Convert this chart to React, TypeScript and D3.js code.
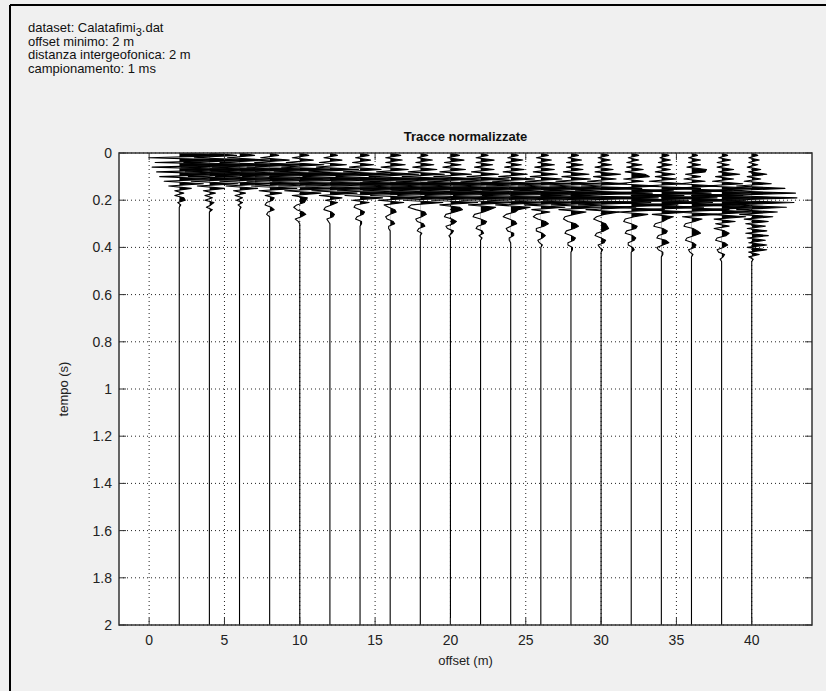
import React from 'react';
import * as d3 from 'd3';

// Figure size and plot box (pixels)
const WIDTH = 826;
const HEIGHT = 691;
const PLOT = { left: 119, top: 153, right: 812, bottom: 625 };

// Header text block
const HEADER_LINES = [
  { pre: 'dataset: Calatafimi', sub: '3', post: '.dat' },
  { pre: 'offset minimo: 2 m', sub: '', post: '' },
  { pre: 'distanza intergeofonica: 2 m', sub: '', post: '' },
  { pre: 'campionamento: 1 ms', sub: '', post: '' },
];
const TITLE = 'Tracce normalizzate';
const X_LABEL = 'offset (m)';
const Y_LABEL = 'tempo (s)';

// Axes
const X_DOMAIN = [-2, 44];
const Y_DOMAIN = [0, 2];
const X_TICKS = [0, 5, 10, 15, 20, 25, 30, 35, 40];
const Y_TICKS = [0, 0.2, 0.4, 0.6, 0.8, 1, 1.2, 1.4, 1.6, 1.8, 2];
const Y_TICK_LABELS = ['0', '0.2', '0.4', '0.6', '0.8', '1', '1.2', '1.4', '1.6', '1.8', '2'];

// Receiver offsets (m) and trace sampling step (s) for the plotted samples
const OFFSETS = [2, 4, 6, 8, 10, 12, 14, 16, 18, 20, 22, 24, 26, 28, 30, 32, 34, 36, 38, 40];
const SAMPLE_STEP = 0.01;
const RECORD_END = 2;

// Normalized trace amplitudes (deflection in offset units), one sample per SAMPLE_STEP
const TRACE_02 = [0.0, 3.8, -2.0, 3.5, -1.6, 3.9, -1.8, 3.4, -1.5, 3.0, -1.3, 2.4, -1.0, 1.6, -0.7, 0.8, -0.3, 0.3, -0.3, 0.3, 0.4, -0.1, 0.1, 0.0];
const TRACE_04 = [0.0, 1.6, -1.0, 3.2, -1.7, 3.8, -1.9, 3.6, -1.6, 3.3, -1.4, 2.8, -1.2, 1.9, -0.8, 1.0, -0.4, 0.4, -0.3, 0.2, -0.3, 0.3, 0.1, -0.2, 0.2, 0.0];
const TRACE_06 = [0.0, 1.0, -0.8, 2.0, -1.3, 3.2, -1.8, 3.8, -1.9, 3.6, -1.6, 3.0, -1.3, 2.2, -0.9, 1.2, -0.4, 0.4, -0.3, 0.2, -0.2, 0.2, -0.1, 0.1, 0.0];
const TRACE_08 = [0.0, 0.6, -0.6, 1.3, -1.0, 2.4, -1.5, 3.4, -1.9, 3.9, -1.8, 3.5, -1.5, 2.8, -1.2, 1.8, -0.7, 0.8, -0.3, 0.3, 0.2, -0.2, -0.3, 0.1, 0.3, -0.1, -0.2, 0.0];
const TRACE_10 = [0.0, 0.6, -0.5, 0.9, -0.9, 1.6, -1.2, 2.7, -1.7, 3.6, -2.0, 3.8, -1.8, 3.3, -1.4, 2.4, -1.0, 1.4, -0.5, 0.5, 0.4, 0.3, -0.2, -0.4, -0.2, 0.2, 0.4, 0.1, -0.3, -0.1, 0.0];
const TRACE_12 = [0.0, 0.5, -0.4, 0.8, -0.7, 1.1, -0.9, 1.9, -1.4, 3.0, -1.8, 3.7, -2.0, 3.6, -1.6, 2.8, -1.2, 1.8, -0.7, 0.8, -0.3, 0.5, 0.1, -0.3, -0.4, 0.1, 0.3, 0.2, -0.2, -0.1, 0.0];
const TRACE_14 = [0.0, 0.6, -0.3, 0.7, -0.5, 0.9, -0.7, 1.4, -1.1, 2.4, -1.6, 3.3, -1.9, 3.8, -1.9, 3.4, -1.5, 2.5, -1.0, 1.5, -0.5, 0.6, -0.3, -0.4, 0.0, 0.3, 0.2, -0.2, -0.3, 0.1, 0.1, 0.0];
const TRACE_16 = [0.0, 0.7, -0.3, 0.8, -0.3, 1.0, -0.6, 1.2, -0.9, 1.9, -1.4, 2.9, -1.8, 3.7, -2.0, 3.8, -1.8, 3.1, -1.3, 2.1, -0.8, 0.9, -0.4, -0.1, 0.3, 0.4, 0.0, -0.3, -0.2, 0.2, 0.3, -0.1, -0.1, 0.0];
const TRACE_18 = [0.0, 0.5, -0.2, 0.8, -0.3, 0.9, -0.5, 1.1, -0.8, 1.6, -1.2, 2.5, -1.6, 3.4, -1.9, 3.9, -1.9, 3.5, -1.5, 2.5, -1.1, 1.5, -0.6, -0.8, -0.3, 0.3, 0.4, 0.1, -0.3, -0.2, 0.2, 0.3, -0.1, -0.2, 0.1, 0.0];
const TRACE_20 = [0.0, 0.6, -0.2, 0.9, -0.4, 0.7, -0.5, 1.0, -0.7, 1.4, -1.1, 2.2, -1.5, 3.2, -1.9, 3.8, -2.0, 3.6, -1.7, 2.8, -1.2, 1.8, -0.7, 0.6, 0.8, 0.3, -0.3, -0.4, 0.1, 0.4, 0.2, -0.3, -0.2, 0.2, 0.1, -0.1, 0.0];
const TRACE_22 = [0.0, 0.5, -0.3, 0.9, -0.3, 0.8, -0.4, 0.9, -0.6, 1.2, -0.9, 1.9, -1.3, 2.9, -1.8, 3.6, -2.0, 3.8, -1.8, 3.1, -1.3, 2.1, -0.8, 1.0, 0.6, 0.2, -0.4, -0.5, 0.0, 0.4, 0.3, -0.2, -0.3, 0.1, 0.2, -0.1, 0.1, 0.0];
const TRACE_24 = [0.0, 0.5, -0.2, 0.8, -0.3, 0.7, -0.4, 0.9, -0.5, 1.1, -0.8, 1.6, -1.2, 2.5, -1.6, 3.4, -1.9, 3.8, -1.9, 3.4, -1.5, 2.4, -1.0, 1.3, 0.5, 0.3, -0.3, -0.5, -0.1, 0.3, 0.4, 0.0, -0.3, -0.2, 0.2, 0.2, -0.1, -0.1, 0.0];
const TRACE_26 = [0.0, 0.5, -0.3, 0.7, -0.2, 0.9, -0.4, 0.9, -0.5, 1.1, -0.7, 1.4, -1.0, 2.2, -1.5, 3.1, -1.8, 3.7, -2.0, 3.6, -1.7, 2.7, -1.1, 1.6, -0.6, 0.6, -0.3, -0.5, -0.2, 0.3, 0.5, 0.2, -0.3, -0.3, 0.1, 0.3, 0.1, -0.2, -0.1, 0.1, 0.0];
const TRACE_28 = [0.0, 0.5, -0.2, 0.7, -0.3, 0.8, -0.3, 0.8, -0.5, 1.2, -0.6, 1.3, -1.0, 2.0, -1.4, 2.9, -1.8, 3.6, -2.0, 3.8, -1.8, 3.0, -1.3, 2.0, -0.8, 1.0, 0.2, -0.4, -0.5, -0.2, 0.3, 0.5, 0.2, -0.3, -0.4, 0.0, 0.3, 0.2, -0.2, -0.2, 0.1, 0.1, 0.0];
const TRACE_30 = [0.0, 0.5, -0.2, 0.6, -0.2, 0.7, -0.4, 0.8, -0.4, 1.3, -0.5, 1.0, -0.9, 1.7, -1.3, 2.7, -1.7, 3.4, -2.0, 3.8, -1.9, 3.3, -1.5, 2.3, -1.0, 1.2, 0.2, -0.3, -0.5, -0.1, 0.3, 0.4, 0.5, 0.2, -0.3, -0.4, 0.0, 0.3, 0.2, -0.2, -0.1, 0.1, 0.0];
const TRACE_32 = [0.0, 0.5, -0.2, 0.5, -0.3, 0.7, -0.3, 0.8, -0.4, 0.9, 1.2, -0.5, 0.8, -1.0, 1.8, -1.3, 2.8, -1.7, 3.5, -2.0, 3.8, -1.8, 3.1, -1.4, 2.2, -0.9, 1.1, 0.2, -0.4, -0.5, 0.0, 0.4, 0.3, -0.3, -0.4, 0.1, 0.3, 0.2, -0.2, -0.2, 0.1, 0.2, 0.0, 0.0];
const TRACE_34 = [0.0, 0.5, -0.1, 0.6, -0.2, 0.7, -0.3, 0.6, -0.4, 0.9, -0.4, 1.0, -0.8, 1.6, -1.2, 2.6, -1.6, 3.3, -2.0, 3.7, -1.9, 3.4, -1.6, 2.8, -1.3, 2.0, -0.6, 0.8, 0.4, 0.1, -0.4, -0.5, 0.1, 0.4, 0.3, -0.2, -0.3, 0.3, 0.5, 0.1, -0.3, -0.2, 0.1, 0.1, 0.0];
const TRACE_36 = [0.0, 0.4, -0.2, 0.6, -0.2, 0.6, -0.3, 1.0, 0.9, -0.4, 0.6, -0.5, 0.9, -0.8, 1.7, -1.3, 2.7, -1.7, 3.4, -2.0, 3.6, -1.8, 3.2, -1.4, 2.5, -1.1, 1.7, -0.6, 0.7, 0.2, -0.4, -0.5, 0.1, 0.4, 0.6, 0.2, -0.3, -0.4, 0.1, 0.3, 0.2, -0.2, -0.1, 0.1, 0.0];
const TRACE_38 = [0.0, 0.4, -0.2, 0.6, -0.3, 0.5, -0.3, 0.8, -0.2, 1.2, -0.4, 0.8, -0.6, 1.4, -1.1, 2.5, -1.6, 3.3, -2.0, 3.8, -1.9, 3.5, -1.5, 2.9, -1.2, 2.4, -0.8, 1.6, -0.5, 0.9, -0.4, 0.5, -0.5, 0.2, 0.5, 0.3, -0.3, -0.4, 0.2, 0.4, 0.1, -0.3, -0.2, 0.2, 0.1, -0.1, 0.0];
const TRACE_40 = [0.0, 0.4, -0.2, 0.5, -0.2, 0.4, -0.3, 0.6, -0.2, 1.0, -0.3, 0.6, -0.5, 1.3, -1.0, 2.2, -1.5, 2.9, -1.8, 3.0, -1.7, 2.8, -1.3, 2.3, -1.0, 1.7, -0.8, 1.4, -0.5, 1.1, -0.4, 0.9, -0.3, 1.0, -0.4, 1.1, -0.3, 0.9, -0.2, 1.0, -0.3, 1.0, -0.2, 0.5, -0.2, 0.1, 0.0];

const TRACES = [
  TRACE_02, TRACE_04, TRACE_06, TRACE_08, TRACE_10,
  TRACE_12, TRACE_14, TRACE_16, TRACE_18, TRACE_20,
  TRACE_22, TRACE_24, TRACE_26, TRACE_28, TRACE_30,
  TRACE_32, TRACE_34, TRACE_36, TRACE_38, TRACE_40,
];

const FONT = '"Liberation Sans", Arial, Helvetica, sans-serif';
const TICK_LEN = 7;

type Sample = { t: number; a: number };

export default function App() {
  const x = d3.scaleLinear().domain(X_DOMAIN).range([PLOT.left, PLOT.right]);
  const y = d3.scaleLinear().domain(Y_DOMAIN).range([PLOT.top, PLOT.bottom]);

  const traces = OFFSETS.map((offset, i) => {
    const samples: Sample[] = TRACES[i].map((a, k) => ({ t: k * SAMPLE_STEP, a }));
    samples.push({ t: RECORD_END, a: 0 });
    const line = d3
      .line<Sample>()
      .x((d) => x(offset + d.a))
      .y((d) => y(d.t));
    const area = d3
      .area<Sample>()
      .x0(x(offset))
      .x1((d) => x(offset + d.a))
      .y((d) => y(d.t));
    return { offset, line: line(samples) || '', area: area(samples) || '' };
  });

  const plotW = PLOT.right - PLOT.left;
  const plotH = PLOT.bottom - PLOT.top;
  const cx = (PLOT.left + PLOT.right) / 2;
  const cy = (PLOT.top + PLOT.bottom) / 2;

  return (
    <svg
      width={WIDTH}
      height={HEIGHT}
      style={{ position: 'absolute', left: 0, top: 0, display: 'block' }}
      fontFamily={FONT}
    >
      <defs>
        <clipPath id="plot-clip">
          <rect x={PLOT.left} y={PLOT.top} width={plotW} height={plotH} />
        </clipPath>
        {traces.map((tr, i) => (
          <clipPath id={`pos-${i}`} key={`c${i}`}>
            <rect x={x(tr.offset)} y={PLOT.top} width={PLOT.right - x(tr.offset)} height={plotH} />
          </clipPath>
        ))}
      </defs>

      {/* figure background and window frame */}
      <rect x={0} y={0} width={WIDTH} height={HEIGHT} fill="#f0f0f0" />
      <line x1={10} y1={5} x2={10} y2={HEIGHT} stroke="#000" strokeWidth={2} />
      <line x1={10} y1={5} x2={WIDTH} y2={5} stroke="#000" strokeWidth={2} />

      {/* header info */}
      <g fontSize={13} fill="#111">
        {HEADER_LINES.map((l, i) => (
          <text key={i} x={28} y={32 + i * 13.5}>
            {l.pre}
            {l.sub ? (
              <tspan dy={4} fontSize={11}>
                {l.sub}
              </tspan>
            ) : null}
            {l.post ? <tspan dy={l.sub ? -4 : 0}>{l.post}</tspan> : null}
          </text>
        ))}
      </g>

      {/* plot area */}
      <rect x={PLOT.left} y={PLOT.top} width={plotW} height={plotH} fill="#fff" />

      {/* dotted grid */}
      <g stroke="#222" strokeWidth={1} strokeDasharray="1 3">
        {X_TICKS.map((v) => (
          <line key={`gx${v}`} x1={x(v)} x2={x(v)} y1={PLOT.top} y2={PLOT.bottom} />
        ))}
        {Y_TICKS.map((v) => (
          <line key={`gy${v}`} x1={PLOT.left} x2={PLOT.right} y1={y(v)} y2={y(v)} />
        ))}
      </g>

      {/* wiggle traces */}
      <g clipPath="url(#plot-clip)">
        {traces.map((tr, i) => (
          <g key={`t${i}`}>
            <path d={tr.area} fill="#000" stroke="none" clipPath={`url(#pos-${i})`} />
            <path d={tr.line} fill="none" stroke="#000" strokeWidth={1.1} strokeLinejoin="round" />
          </g>
        ))}
      </g>

      {/* axes box and ticks */}
      <rect x={PLOT.left} y={PLOT.top} width={plotW} height={plotH} fill="none" stroke="#333" strokeWidth={1.5} />
      <g stroke="#333" strokeWidth={1}>
        {X_TICKS.map((v) => (
          <g key={`tx${v}`}>
            <line x1={x(v)} x2={x(v)} y1={PLOT.bottom} y2={PLOT.bottom - TICK_LEN} />
            <line x1={x(v)} x2={x(v)} y1={PLOT.top} y2={PLOT.top + TICK_LEN} />
          </g>
        ))}
        {Y_TICKS.map((v) => (
          <g key={`ty${v}`}>
            <line x1={PLOT.left} x2={PLOT.left + TICK_LEN} y1={y(v)} y2={y(v)} />
            <line x1={PLOT.right} x2={PLOT.right - TICK_LEN} y1={y(v)} y2={y(v)} />
          </g>
        ))}
      </g>

      {/* tick labels */}
      <g fontSize={14} fill="#222">
        {X_TICKS.map((v) => (
          <text key={`lx${v}`} x={x(v)} y={PLOT.bottom + 20} textAnchor="middle">
            {String(v)}
          </text>
        ))}
        {Y_TICKS.map((v, i) => (
          <text key={`ly${v}`} x={PLOT.left - 7} y={y(v) + 5} textAnchor="end">
            {Y_TICK_LABELS[i]}
          </text>
        ))}
      </g>

      {/* title and axis labels */}
      <text x={cx} y={PLOT.top - 12} textAnchor="middle" fontSize={13} fontWeight="bold" fill="#111">
        {TITLE}
      </text>
      <text x={cx} y={PLOT.bottom + 40} textAnchor="middle" fontSize={13} fill="#222">
        {X_LABEL}
      </text>
      <text
        transform={`translate(${68},${cy}) rotate(-90)`}
        textAnchor="middle"
        fontSize={13}
        fill="#222"
      >
        {Y_LABEL}
      </text>
    </svg>
  );
}
